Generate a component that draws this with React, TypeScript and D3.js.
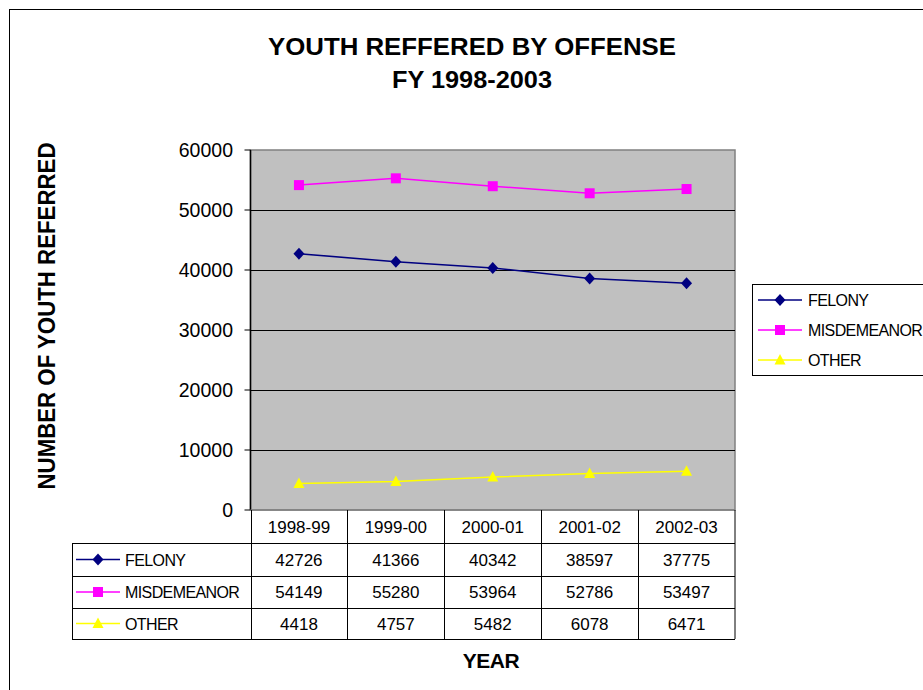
import React from "react";
import * as d3 from "d3";

const years = ["1998-99", "1999-00", "2000-01", "2001-02", "2002-03"];
const felony = [42726, 41366, 40342, 38597, 37775];
const misdemeanor = [54149, 55280, 53964, 52786, 53497];
const other = [4418, 4757, 5482, 6078, 6471];
const yTicks = [0, 10000, 20000, 30000, 40000, 50000, 60000];

const seriesList = [
  { name: "FELONY", values: felony, color: "#000080", marker: "diamond" },
  { name: "MISDEMEANOR", values: misdemeanor, color: "#FF00FF", marker: "square" },
  { name: "OTHER", values: other, color: "#FFFF00", marker: "triangle" },
];

const FONT = "'Liberation Sans', Arial, Helvetica, sans-serif";

function Marker({ type, x, y, color }: { type: string; x: number; y: number; color: string }) {
  if (type === "diamond") {
    return <path d={`M${x},${y - 6}L${x + 5.5},${y}L${x},${y + 6}L${x - 5.5},${y}Z`} fill={color} />;
  }
  if (type === "square") {
    return <rect x={x - 5} y={y - 5} width={10} height={10} fill={color} />;
  }
  return <path d={`M${x},${y - 6}L${x + 5.5},${y + 4.5}L${x - 5.5},${y + 4.5}Z`} fill={color} />;
}

export default function App() {
  const L = 250.5, R = 735, T = 150, B = 510;
  const x = d3.scaleBand<string>().domain(years).range([L, R]);
  const y = d3.scaleLinear().domain([0, 60000]).range([B, T]);
  const cx = (d: string) => (x(d) as number) + x.bandwidth() / 2;
  const line = d3.line<number>().x((_, i) => cx(years[i])).y((v) => y(v));

  const rowTops = [510, 543, 576, 608, 639];
  const labelLeft = 72;

  return (
    <svg width={923} height={690} style={{ position: "absolute", left: 0, top: 0, background: "#fff" }} fontFamily={FONT}>
      <rect x={9.5} y={9.5} width={930} height={700} fill="#fff" stroke="#000" strokeWidth={1} />
      {/* title */}
      <text x={472} y={55} textAnchor="middle" fontSize={24} fontWeight="bold" textLength={408} lengthAdjust="spacingAndGlyphs">YOUTH REFFERED BY OFFENSE</text>
      <text x={472} y={88} textAnchor="middle" fontSize={24} fontWeight="bold" textLength={160} lengthAdjust="spacingAndGlyphs">FY 1998-2003</text>
      {/* y title */}
      <text transform="translate(55,316) rotate(-90)" textAnchor="middle" fontSize={23} fontWeight="bold" textLength={347} lengthAdjust="spacingAndGlyphs">NUMBER OF YOUTH REFERRED</text>
      {/* plot area */}
      <rect x={L} y={T} width={R - L} height={B - T} fill="#C0C0C0" stroke="#808080" strokeWidth={1.5} />
      {yTicks.filter((t) => t > 0 && t < 60000).map((t) => (
        <line key={t} x1={L} x2={R} y1={Math.round(y(t)) + 0.5} y2={Math.round(y(t)) + 0.5} stroke="#000" strokeWidth={1} />
      ))}
      <line x1={L} x2={L} y1={T} y2={B} stroke="#000" strokeWidth={1.5} />
      {yTicks.map((t) => (
        <g key={t}>
          <line x1={L - 6} x2={L} y1={y(t)} y2={y(t)} stroke="#000" strokeWidth={1} />
          <text x={233} y={y(t) + 7} textAnchor="end" fontSize={19.5}>{t}</text>
        </g>
      ))}
      {/* series */}
      {seriesList.map((s) => (
        <g key={s.name}>
          <path d={line(s.values) as string} fill="none" stroke={s.color} strokeWidth={1.5} />
          {s.values.map((v, i) => (
            <Marker key={i} type={s.marker} x={cx(years[i])} y={y(v)} color={s.color} />
          ))}
        </g>
      ))}
      {/* data table */}
      <g stroke="#000" strokeWidth={1}>
        <line x1={L} x2={R} y1={rowTops[0]} y2={rowTops[0]} stroke="#808080" strokeWidth={1.5} />
        {rowTops.slice(1).map((ry) => (
          <line key={ry} x1={labelLeft} x2={R} y1={ry + 0.5} y2={ry + 0.5} />
        ))}
        <line x1={labelLeft + 0.5} x2={labelLeft + 0.5} y1={rowTops[1]} y2={rowTops[4]} />
        {years.map((yr) => (
          <line key={yr} x1={Math.round(x(yr) as number) + 0.5} x2={Math.round(x(yr) as number) + 0.5} y1={rowTops[0]} y2={rowTops[4]} />
        ))}
        <line x1={R} x2={R} y1={rowTops[0]} y2={rowTops[4]} />
      </g>
      {years.map((yr) => (
        <text key={yr} x={cx(yr)} y={(rowTops[0] + rowTops[1]) / 2 + 6} textAnchor="middle" fontSize={17}>{yr}</text>
      ))}
      {seriesList.map((s, r) => {
        const my = (rowTops[r + 1] + rowTops[r + 2]) / 2;
        return (
          <g key={s.name}>
            <line x1={76} x2={120} y1={my} y2={my} stroke={s.color} strokeWidth={1.5} />
            <Marker type={s.marker} x={98} y={my} color={s.color} />
            <text x={125} y={my + 6} fontSize={16} letterSpacing={-0.6}>{s.name}</text>
            {s.values.map((v, i) => (
              <text key={i} x={cx(years[i])} y={my + 6} textAnchor="middle" fontSize={17}>{v}</text>
            ))}
          </g>
        );
      })}
      {/* x title */}
      <text x={491} y={668} textAnchor="middle" fontSize={21} fontWeight="bold" letterSpacing={-0.5}>YEAR</text>
      {/* legend */}
      <rect x={752.5} y={284.5} width={200} height={91} fill="#fff" stroke="#000" strokeWidth={1} />
      {seriesList.map((s, i) => {
        const ly = 300 + i * 30;
        return (
          <g key={s.name}>
            <line x1={758} x2={802} y1={ly} y2={ly} stroke={s.color} strokeWidth={1.5} />
            <Marker type={s.marker} x={780} y={ly} color={s.color} />
            <text x={808} y={ly + 6} fontSize={16} letterSpacing={-0.6}>{s.name}</text>
          </g>
        );
      })}
    </svg>
  );
}
